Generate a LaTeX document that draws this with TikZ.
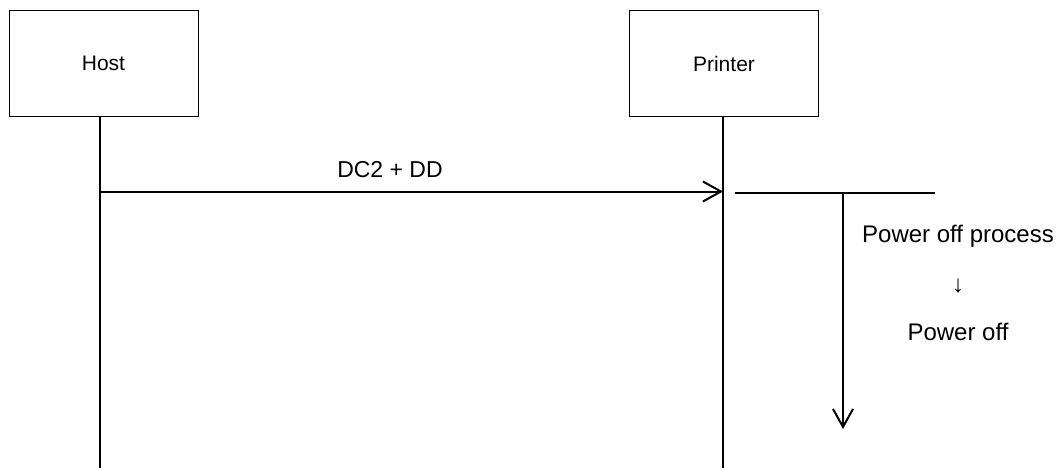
\documentclass[tikz,border=0pt]{standalone}
\usepackage{fontspec}
\setmainfont{Liberation Sans}
\usetikzlibrary{arrows.meta}

\tikzset{
    actor/.style={draw, line width=1pt, minimum width=189pt, minimum height=106pt, font=\fontsize{21}{25}\selectfont},
    life/.style={line width=1.6pt},
    msg/.style={line width=2pt, -{Straight Barb[length=18pt,width=20pt,line width=2pt]}},
    note/.style={font=\fontsize{24}{28}\selectfont}
}

\begin{document}
\begin{tikzpicture}[x=1pt,y=-1pt]
    \useasboundingbox (0,0) rectangle (1060,468);

    %actors
    \node[actor] (host) at (103.5,63.5) {Host};
    \node[actor] (printer) at (724,63.5) {Printer};

    %lifelines
    \coordinate (hostend) at (100,468);
    \coordinate (printerend) at (723,468);
    \draw[life] (hostend |- host.south) -- (hostend);
    \draw[life] (printerend |- printer.south) -- (printerend);

    %message
    \coordinate (msgstart) at (100,191.5);
    \draw[msg] (msgstart) -- (msgstart -| printerend);
    \node[note, font=\fontsize{23}{27}\selectfont] (msglabel) at (390,170) {DC2 + DD};

    %power off
    \coordinate (barleft) at (735,193);
    \coordinate (barright) at (935,193);
    \coordinate (bardrop) at (843,193);
    \coordinate (barend) at (843,429);
    \draw[line width=2pt] (barleft) -- (barright);
    \draw[msg] (bardrop) -- (barend);

    %labels
    \node[note] (process) at (958,236) {Power off process};
    \node[note] (step) at (958,286) {↓};
    \node[note] (off) at (958,332) {Power off};

\end{tikzpicture}
\end{document}
